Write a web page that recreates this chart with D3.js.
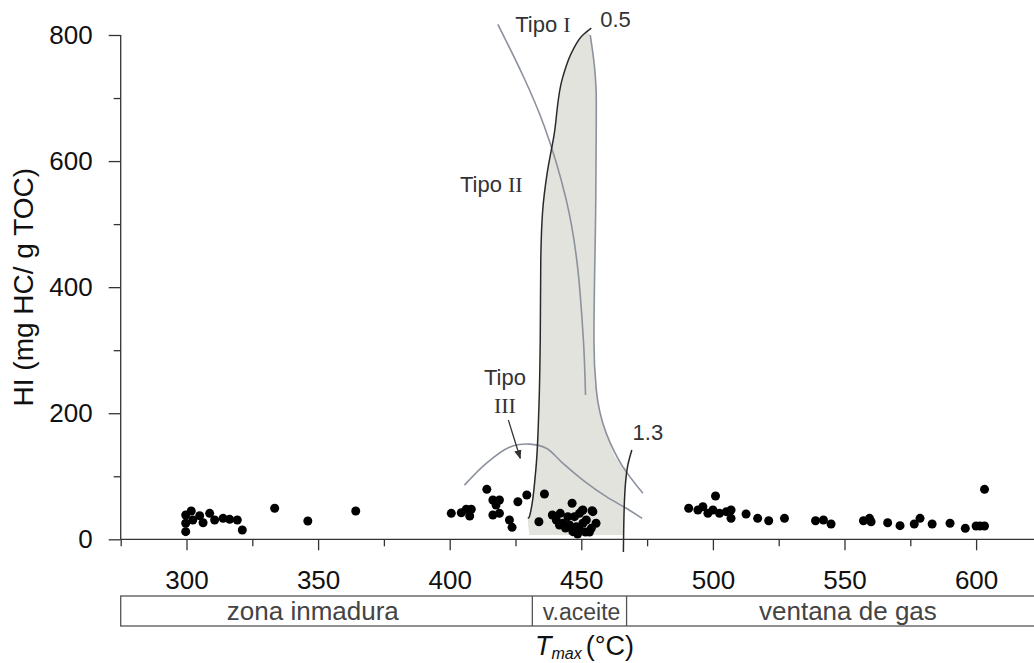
<!DOCTYPE html>
<html>
<head>
<meta charset="utf-8">
<script src="https://cdn.jsdelivr.net/npm/d3@7"></script>
<style>
  html, body { margin: 0; padding: 0; background: #fff; }
  svg { display: block; font-family: "Liberation Sans", Arial, sans-serif; }
</style>
</head>
<body>
<svg id="chart" width="1034" height="663"></svg>
<script>
// ---- Data (Tmax °C, HI mg HC/g TOC) ----
const tmax = [
  299.7, 301.8, 299.7, 299.7, 302.4, 305.0, 306.3, 308.8, 310.7, 313.9, 316.4, 319.3, 321.2, 333.5, 346.1, 364.3,
  400.6, 404.4, 406.3, 408.2, 407.6, 414.1, 416.4, 418.9, 417.6, 416.4, 418.9, 422.7, 423.7, 425.9, 429.3, 436.0,
  433.9, 439.0, 442.0, 446.5, 450.3, 454.1, 455.6, 440.5, 443.0, 445.5, 448.1, 449.3, 446.8, 450.6, 451.9, 454.4,
  453.8, 449.3, 447.4, 444.9, 450.6, 444.0, 451.6, 448.6, 453.1, 441.7,
  490.8, 494.3, 496.2, 501.0, 498.1, 500.0, 502.5, 505.1, 506.9, 506.9, 512.6, 517.0, 521.2, 527.2, 539.0, 542.0,
  544.9, 557.2, 559.5, 560.1, 566.4, 571.1, 576.5, 578.7, 583.3, 590.1, 595.9, 600.0, 601.5, 603.2, 603.2
];
const hi = [
  38.5, 44.9, 25.4, 12.1, 30.6, 37.4, 26.3, 41.2, 30.6, 33.3, 31.7, 30.6, 14.8, 49.2, 29.0, 44.9,
  41.2, 42.2, 47.6, 47.6, 37.0, 79.3, 62.3, 62.3, 54.4, 38.5, 41.2, 30.6, 19.0, 59.6, 70.3, 71.9,
  27.9, 38.5, 41.2, 57.1, 45.4, 45.4, 25.4, 30.6, 25.4, 22.7, 20.0, 14.8, 12.1, 25.4, 30.6, 43.8,
  17.4, 41.2, 35.9, 35.9, 46.5, 17.9, 11.6, 8.4, 11.6, 22.7,
  49.2, 46.5, 51.7, 68.7, 41.2, 46.5, 41.2, 43.8, 46.5, 33.3, 40.1, 33.3, 29.5, 33.3, 29.5, 30.6,
  24.3, 29.5, 33.3, 27.9, 26.3, 21.6, 24.3, 33.3, 24.3, 25.4, 17.4, 21.1, 21.1, 21.1, 79.3
];

// Curves [Tmax, HI]
const isoReflect05 = [[453.8,811],[450.6,800],[446.8,776],[443.0,734],[439.6,640],[437.0,580],[435.3,520],[434.6,440],[434.4,316],[433.9,210],[432.6,105],[430.3,36],[429.7,33]];
const isoReflect13 = [[469.2,141.7],[467.6,116],[466.4,62],[466.0,-20]];
const tipoI   = [[418.3,817],[436.0,654.5],[444.3,538],[450.8,316],[451.6,229]];
const tipoII  = [[453.4,800],[455.0,750],[455.7,697],[455.5,538],[454.8,316],[455.7,237],[459.5,168],[465.8,115],[473.4,73]];
const tipoIII = [[405.6,86],[413.9,120.6],[422.7,146],[430.3,151],[436.7,144.4],[443.0,120.6],[450.6,94],[459.5,67.6],[467.1,49.2],[473.1,33.3]];
const shadeLeft  = [[452.3,805],[450.6,800],[446.8,776],[443.0,734],[439.6,640],[437.0,580],[435.3,520],[434.6,440],[434.4,316],[433.9,210],[432.6,105],[430.3,36],[429.7,33],[430.3,7]];
const shadeRight = [[466.2,7],[466.5,62],[467.3,112],[465.8,115],[459.5,168],[455.7,237],[454.8,316],[455.5,538],[455.7,697],[455.0,750],[453.4,800]];

// Axis ticks
const xMajorTicks = [300, 350, 400, 450, 500, 550, 600];
const xMinorTicks = [275, 325, 375, 425, 475, 525, 575];
const yMajorTicks = [0, 200, 400, 600, 800];
const yMinorTicks = [100, 300, 500, 700];

// Maturity zones
const zoneNames = ["zona inmadura", "v.aceite", "ventana de gas"];
const zoneBounds = [275, 431.4, 467.2, 640];
const zoneLabelX = [348, 450.1, 551.3];

// Annotations
const annotations = [
  {t: "Tipo ", r: "I",   x: 424.9, y: 805, anchor: "start"},
  {t: "0.5",  r: "",     x: 457.2, y: 812, anchor: "start"},
  {t: "Tipo ", r: "II",  x: 403.9, y: 551, anchor: "start"},
  {t: "Tipo", r: "",     x: 421.0, y: 245, anchor: "middle"},
  {t: "",     r: "III",  x: 421.0, y: 201, anchor: "middle"},
  {t: "1.3",  r: "",     x: 469.5, y: 157.5, anchor: "start"}
];
const arrowTipoIII = [[422.3,189],[426.8,128.5]];

// ---- Drawing ----
const svg = d3.select("#chart");
const x = d3.scaleLinear().domain([275, 622]).range([120.7, 1034]);
const y = d3.scaleLinear().domain([0, 800]).range([539.3, 35]);

const lineY = d3.line().x(d => x(d[0])).y(d => y(d[1])).curve(d3.curveMonotoneY);
const lineS = d3.line().x(d => x(d[0])).y(d => y(d[1])).curve(d3.curveCatmullRom.alpha(0.5));

// oil window shading
const shadeD = lineY(shadeLeft) + lineY(shadeRight).replace(/^M/, "L") + "Z";
svg.append("path").attr("d", shadeD).attr("fill", "#e3e3de").attr("stroke", "none");

// kerogen type curves
const grey = "#8b929d";
[tipoI, tipoII].forEach(c => {
  svg.append("path").attr("d", lineY(c)).attr("fill", "none").attr("stroke", grey).attr("stroke-width", 1.6);
});
svg.append("path").attr("d", lineS(tipoIII)).attr("fill", "none").attr("stroke", grey).attr("stroke-width", 1.6);
[isoReflect05, isoReflect13].forEach(c => {
  svg.append("path").attr("d", lineY(c)).attr("fill", "none").attr("stroke", "#2a2a2a").attr("stroke-width", 1.5);
});

// arrow
svg.append("defs").append("marker")
  .attr("id", "ah").attr("viewBox", "0 0 10 10").attr("refX", 9).attr("refY", 5)
  .attr("markerWidth", 7).attr("markerHeight", 7).attr("orient", "auto")
  .append("path").attr("d", "M0,1 L10,5 L0,9 Z").attr("fill", "#333");
svg.append("line")
  .attr("x1", x(arrowTipoIII[0][0])).attr("y1", y(arrowTipoIII[0][1]))
  .attr("x2", x(arrowTipoIII[1][0])).attr("y2", y(arrowTipoIII[1][1]))
  .attr("stroke", "#333").attr("stroke-width", 1.3).attr("marker-end", "url(#ah)");

// annotations
annotations.forEach(a => {
  const t = svg.append("text").attr("x", x(a.x)).attr("y", y(a.y))
    .attr("text-anchor", a.anchor).attr("fill", "#333").attr("font-size", 22);
  if (a.t) t.append("tspan").text(a.t).attr("font-family", "Liberation Sans, Arial, sans-serif");
  if (a.r) t.append("tspan").text(a.r).attr("font-family", "Liberation Serif, Times New Roman, serif");
});

// points
svg.append("g").selectAll("circle").data(tmax.map((t, i) => [t, hi[i]])).join("circle")
  .attr("cx", d => x(d[0])).attr("cy", d => y(d[1])).attr("r", 4.5).attr("fill", "#000");

// axes
const axisColor = "#333";
function styleAxis(g) {
  g.selectAll("path.domain").remove();
  g.selectAll("line").attr("stroke", axisColor).attr("stroke-width", 1.3);
  g.selectAll("text").attr("fill", "#111").attr("font-size", 26).attr("font-family", "Liberation Sans, Arial, sans-serif");
}
const gx = svg.append("g").attr("transform", `translate(0,${y(0)})`);
gx.append("g").call(d3.axisBottom(x).tickValues(xMinorTicks).tickSize(7).tickFormat("")).call(styleAxis);
gx.append("g").call(d3.axisBottom(x).tickValues(xMajorTicks).tickSize(11).tickPadding(20).tickFormat(d3.format("d"))).call(styleAxis);
gx.append("line").attr("x1", x(275)).attr("x2", 1034).attr("stroke", axisColor).attr("stroke-width", 1.3);

const gy = svg.append("g").attr("transform", `translate(${x(275)},0)`);
gy.append("g").call(d3.axisLeft(y).tickValues(yMinorTicks).tickSize(7).tickFormat("")).call(styleAxis);
gy.append("g").call(d3.axisLeft(y).tickValues(yMajorTicks).tickSize(12).tickPadding(16).tickFormat(d3.format("d"))).call(styleAxis);
gy.append("line").attr("y1", y(0)).attr("y2", y(800)).attr("stroke", axisColor).attr("stroke-width", 1.3);

// y label
svg.append("text").attr("transform", `translate(33,${(y(0)+y(800))/2}) rotate(-90)`)
  .attr("text-anchor", "middle").attr("font-size", 28).attr("fill", "#111")
  .text("HI (mg HC/ g TOC)");

// maturity band
const bandTop = 596, bandBot = 626;
const gb = svg.append("g");
gb.append("rect").attr("x", x(zoneBounds[0])).attr("y", bandTop)
  .attr("width", x(zoneBounds[3]) - x(zoneBounds[0])).attr("height", bandBot - bandTop)
  .attr("fill", "none").attr("stroke", "#555").attr("stroke-width", 1.3);
[zoneBounds[1], zoneBounds[2]].forEach(b => {
  gb.append("line").attr("x1", x(b)).attr("x2", x(b)).attr("y1", bandTop).attr("y2", bandBot)
    .attr("stroke", "#555").attr("stroke-width", 1.3);
});
zoneNames.forEach((n, i) => {
  gb.append("text").attr("x", x(zoneLabelX[i])).attr("y", 620)
    .attr("text-anchor", "middle").attr("fill", "#444")
    .attr("font-size", i === 1 ? 23 : 26).text(n);
});

// x label
const xl = svg.append("text").attr("x", 535).attr("y", 655).attr("fill", "#111").attr("font-size", 27);
xl.append("tspan").text("T").attr("font-style", "italic");
xl.append("tspan").text("max").attr("font-style", "italic").attr("font-size", 16).attr("dy", 4);
xl.append("tspan").text("(°C)").attr("dx", 4).attr("dy", -4);
</script>
</body>
</html>
